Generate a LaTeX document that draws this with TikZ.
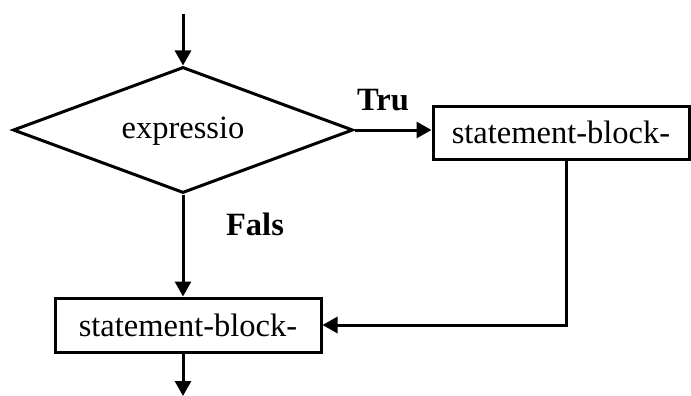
\documentclass[tikz,border=0pt]{standalone}
\usepackage{fontspec}
\setmainfont{Liberation Serif}
\usetikzlibrary{shapes.geometric,arrows.meta}
\begin{document}
\begin{tikzpicture}[x=1pt,y=-1pt,
  line width=3pt,
  font=\fontsize{32.5}{38}\selectfont,
  flow/.style={-{Triangle[length=15pt,width=16pt]}},
  decision/.style={draw,diamond,minimum width=340pt,minimum height=126pt,inner sep=0pt},
  block/.style={draw,rectangle,inner sep=0pt},
  lbl/.style={font=\fontsize{32.5}{38}\selectfont\bfseries}]
\useasboundingbox (0,0) rectangle (691,396);
\node[decision] (cond) at (183,130) {};
\node at (183,131) {expressio};
\node[block,minimum width=256pt,minimum height=53pt] (blkA) at (561,132.5) {statement-block-};
\node[block,minimum width=266pt,minimum height=54pt] (blkB) at (188,325) {statement-block-};
\coordinate (entry) at (183,14);
\coordinate (exit) at (183,396);
\coordinate (turn) at (566,325);
\node[lbl] (tlab) at (383,100) {Tru};
\node[lbl] (flab) at (255,224) {Fals};
\draw[flow] (entry) -- (cond.north);
\draw[flow] (cond.east) -- (cond.east -| blkA.west);
\draw[flow] (cond.south) -- (cond.south |- blkB.north);
\draw[flow] (blkA.south -| turn) -- (turn) -- (blkB.east);
\draw[flow] (blkB.south -| entry) -- (exit);
\end{tikzpicture}
\end{document}
